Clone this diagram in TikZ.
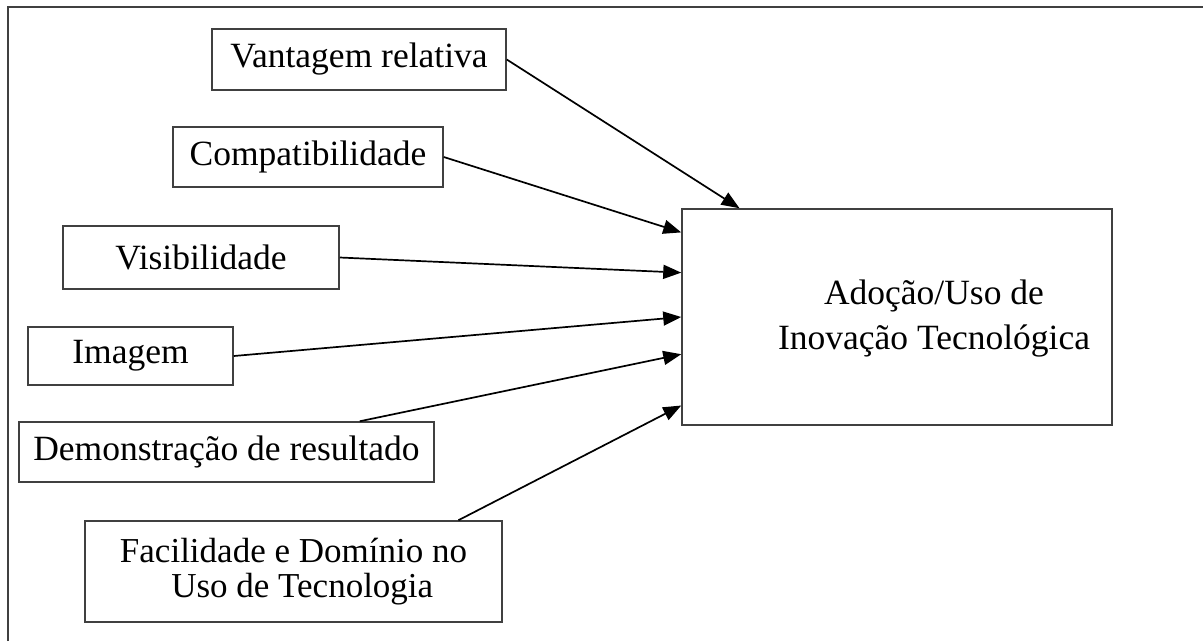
\documentclass[tikz,border=0pt]{standalone}
\usepackage{fontspec}
\setmainfont{Liberation Serif}
\usetikzlibrary{arrows.meta,calc}
\begin{document}
\begin{tikzpicture}[x=1pt,y=-1pt,
  box/.style={draw=black!75,line width=1.5pt,rectangle,inner sep=0pt,
    font=\fontsize{35.5}{38}\selectfont},
  lbl/.style={inner sep=0pt,align=center,font=\fontsize{35.5}{45}\selectfont},
  arr/.style={line width=1.7pt,-{Triangle[length=18pt,width=14pt]}},
  frame/.style={draw=black!75,line width=1.7pt}]
\useasboundingbox (0,0) rectangle (1203,641);
\draw[frame] (8,641) -- (8,7) -- (1203,7);
% input boxes
\node[box,minimum width=294pt,minimum height=61pt] (vr) at (359,59.5) {Vantagem relativa};
\node[box,minimum width=270pt,minimum height=60pt] (cp) at (308,157) {Compatibilidade};
\node[box,minimum width=276pt,minimum height=63pt] (vi) at (201,257.5) {Visibilidade};
\node[box,minimum width=205pt,minimum height=58pt] (im) at (130.5,356) {Imagem};
\node[box,minimum width=415pt,minimum height=60pt] (dr) at (226.5,452) {Demonstração de resultado};
\node[box,minimum width=417pt,minimum height=101pt,align=center,
  font=\fontsize{35}{35}\selectfont] (fd) at (293.5,571.5)
  {Facilidade e Domínio no\\\ \ Uso de Tecnologia};
% target box
\node[draw=black!75,line width=1.5pt,rectangle,inner sep=0pt,
  minimum width=430pt,minimum height=216pt] (ad) at (897,317) {};
\node[lbl] (adt) at (934,319) {Adoção/Uso de\\Inovação Tecnológica};
% connectors
\draw[arr] (vr.east) -- ($(ad.north west)!0.135!(ad.north east)$);
\draw[arr] (cp.east) -- ($(ad.north west)!0.111!(ad.south west)$);
\draw[arr] (vi.east) -- ($(ad.north west)!0.296!(ad.south west)$);
\draw[arr] (im.east) -- ($(ad.north west)!0.5!(ad.south west)$);
\draw[arr] ($(dr.north west)!0.82!(dr.north east)$) -- ($(ad.north west)!0.671!(ad.south west)$);
\draw[arr] ($(fd.north west)!0.894!(fd.north east)$) -- ($(ad.north west)!0.907!(ad.south west)$);
\end{tikzpicture}
\end{document}
